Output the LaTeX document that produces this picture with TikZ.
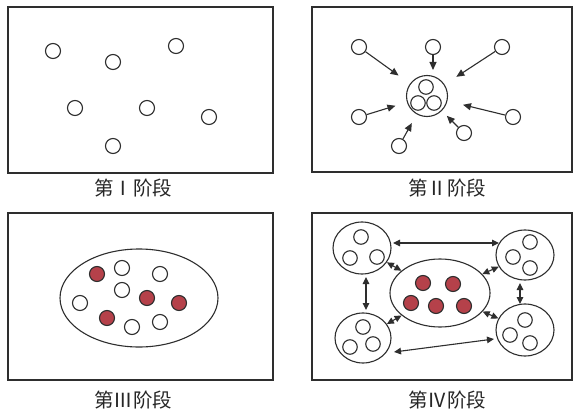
\documentclass[tikz,border=0pt]{standalone}
\usepackage{fontspec}
\newfontfamily\cjk{Noto Sans CJK SC}
\usetikzlibrary{arrows.meta,shapes.geometric}
\definecolor{cellred}{HTML}{B5414A}
\definecolor{ink}{HTML}{2E2E2E}
\begin{document}
\begin{tikzpicture}[x=1pt,y=-1pt,
  panel/.style={draw=ink,line width=1.2pt},
  cell/.style={circle,draw=ink,line width=1.1pt,fill=white,minimum size=15pt,inner sep=0pt},
  rcell/.style={cell,fill=cellred},
  icell/.style={circle,draw=ink,line width=1.1pt,minimum size=14.5pt,inner sep=0pt},
  group/.style={ellipse,draw=ink,line width=1.1pt,inner sep=0pt},
  lab/.style={font=\cjk\fontsize{19.5}{22}\selectfont,text=black!85},
  arr/.style={draw=ink,line width=1.1pt,-{Triangle[length=8pt,width=7pt]}},
  darr/.style={draw=ink,line width=1.1pt,{Triangle[length=7pt,width=6.5pt]}-{Triangle[length=7pt,width=6.5pt]}}]
\useasboundingbox (0,0) rectangle (575,412);
\fill[white] (0,0) rectangle (575,412);
% Panel I
\draw[panel] (8,7) rectangle (273,173);
\node[lab] (l1) at (133,188) {第Ⅰ阶段};
\node[cell] (p1a) at (53,51) {};
\node[cell] (p1b) at (113,62) {};
\node[cell] (p1c) at (176,46) {};
\node[cell] (p1d) at (75,108) {};
\node[cell] (p1e) at (147,108) {};
\node[cell] (p1f) at (209,117) {};
\node[cell] (p1g) at (113,146) {};
% Panel II
\draw[panel] (312,7) rectangle (572,172);
\node[lab] (l2) at (447,188) {第Ⅱ阶段};
\node[circle,draw=ink,line width=1.1pt,minimum size=41pt,inner sep=0pt] (c2) at (427,96) {};
\node[icell] (c2a) at (426,87) {};
\node[icell] (c2b) at (418,103) {};
\node[icell] (c2c) at (434,103) {};
\node[cell] (p2a) at (359,47) {};
\node[cell] (p2b) at (433,47) {};
\node[cell] (p2c) at (502,47) {};
\node[cell] (p2d) at (359,117) {};
\node[cell] (p2e) at (513,117) {};
\node[cell] (p2f) at (399,146) {};
\node[cell] (p2g) at (464,133) {};
\coordinate (t2b) at (433,75);
\draw[arr,shorten >=14pt] (p2a) -- (c2);
\draw[arr,shorten >=5pt] (p2b) -- (t2b);
\draw[arr,shorten >=14pt] (p2c) -- (c2);
\draw[arr,shorten >=12pt] (p2d) -- (c2);
\draw[arr,shorten >=16pt] (p2e) -- (c2);
\draw[arr,shorten >=10pt] (p2f) -- (c2);
\draw[arr,shorten >=7pt] (p2g) -- (c2);
% Panel III
\draw[panel] (8,213) rectangle (273,380);
\node[lab] (l3) at (133,400) {第Ⅲ阶段};
\node[group,minimum width=158pt,minimum height=98pt] (e3) at (139,298) {};
\node[rcell] (p3a) at (97,274) {};
\node[cell] (p3b) at (122,268) {};
\node[cell] (p3c) at (160,274) {};
\node[cell] (p3d) at (122,290) {};
\node[rcell] (p3e) at (147,298) {};
\node[rcell] (p3f) at (179,303) {};
\node[cell] (p3g) at (80,303) {};
\node[rcell] (p3h) at (107,318) {};
\node[cell] (p3i) at (132,327) {};
\node[cell] (p3j) at (160,322) {};
% Panel IV
\draw[panel] (312,213) rectangle (572,380);
\node[lab] (l4) at (447,400) {第Ⅳ阶段};
\node[group,minimum width=100pt,minimum height=68pt] (ec) at (440,293) {};
\node[group,minimum width=58pt,minimum height=52pt] (gtl) at (362,248) {};
\node[group,minimum width=58pt,minimum height=50pt] (gtr) at (525,255) {};
\node[group,minimum width=56pt,minimum height=50pt] (gbl) at (363,338) {};
\node[group,minimum width=58pt,minimum height=52pt] (gbr) at (525,330) {};
\node[rcell] (r1) at (423,283) {};
\node[rcell] (r2) at (453,284) {};
\node[rcell] (r3) at (411,303) {};
\node[rcell] (r4) at (436,306) {};
\node[rcell] (r5) at (464,306) {};
\node[icell] (a1) at (361,237) {};
\node[icell] (a2) at (350,258) {};
\node[icell] (a3) at (377,257) {};
\node[icell] (b1) at (530,242) {};
\node[icell] (b2) at (513,257) {};
\node[icell] (b3) at (530,268) {};
\node[icell] (d1) at (363,327) {};
\node[icell] (d2) at (350,347) {};
\node[icell] (d3) at (373,344) {};
\node[icell] (f1) at (525,320) {};
\node[icell] (f2) at (510,335) {};
\node[icell] (f3) at (530,343) {};
\coordinate (q1) at (393,243);
\coordinate (q2) at (499,243);
\coordinate (q3) at (366,277);
\coordinate (q4) at (366,310);
\coordinate (q5) at (394,352);
\coordinate (q6) at (494,339);
\coordinate (q7) at (520,283);
\coordinate (q8) at (520,304);
\draw[darr] (q1) -- (q2);
\draw[darr] (q3) -- (q4);
\draw[darr] (q5) -- (q6);
\draw[darr] (q7) -- (q8);
\draw[darr] (gtl) -- (ec);
\draw[darr] (gtr) -- (ec);
\draw[darr] (gbl) -- (ec);
\draw[darr] (gbr) -- (ec);
\end{tikzpicture}
\end{document}
